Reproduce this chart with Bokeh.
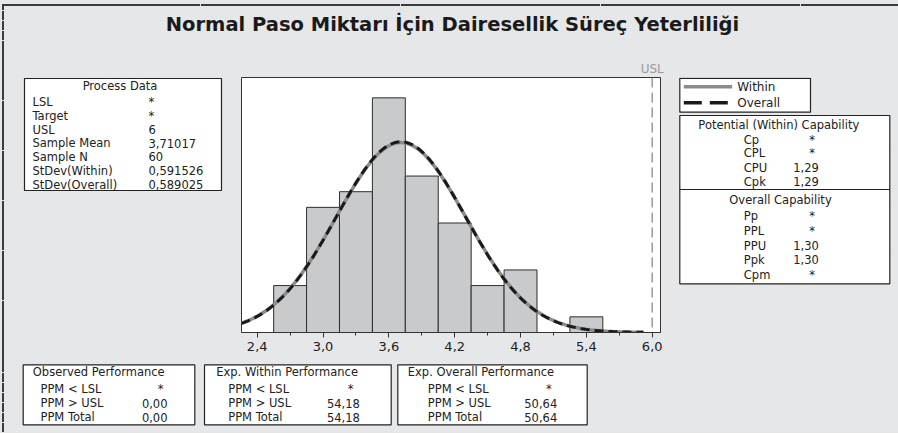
import numpy as np
from bokeh.plotting import figure
from bokeh.models import Range1d, LinearAxis, FixedTicker, CustomJSTickFormatter, Span
from bokeh.layouts import column, row
from bokeh.core.properties import value
from bokeh.embed import file_html
from bokeh.resources import INLINE

# ---------------- data ----------------
title_text = "Normal Paso Miktarı İçin Dairesellik Süreç Yeterliliği"
bin_edges = [2.55, 2.85, 3.15, 3.45, 3.75, 4.05, 4.35, 4.65, 4.95, 5.25, 5.55]
bin_counts = [3, 8, 9, 15, 10, 7, 3, 4, 0, 1]
tick_values = [2.4, 3.0, 3.6, 4.2, 4.8, 5.4, 6.0]
tick_labels = ["2,4", "3,0", "3,6", "4,2", "4,8", "5,4", "6,0"]
minor_tick_values = [2.7, 3.3, 3.9, 4.5, 5.1, 5.7]
usl = 6.0
sample_mean = 3.71017
sample_n = 60
stdev_within = 0.591526
stdev_overall = 0.589025

process_labels = ["LSL", "Target", "USL", "Sample Mean", "Sample N", "StDev(Within)", "StDev(Overall)"]
process_values = ["*", "*", "6", "3,71017", "60", "0,591526", "0,589025"]

within_labels = ["Cp", "CPL", "CPU", "Cpk"]
within_values = ["*", "*", "1,29", "1,29"]
overall_labels = ["Pp", "PPL", "PPU", "Ppk", "Cpm"]
overall_values = ["*", "*", "1,30", "1,30", "*"]

perf_titles = ["Observed Performance", "Exp. Within Performance", "Exp. Overall Performance"]
perf_labels = ["PPM < LSL", "PPM > USL", "PPM Total"]
perf_values = [["*", "0,00", "0,00"], ["*", "54,18", "54,18"], ["*", "50,64", "50,64"]]

# ---------------- style ----------------
BG = "#e6e7e9"
FONT = "DejaVu Sans"
TXT = "#222222"
FS = "11.5px"
BORDER = "#3c3c3c"

ROW_H = 312
BT, BB = 27, 30


def panel(w, h, top=0, bottom=0):
    f = figure(width=w, height=h, x_range=Range1d(0, w), y_range=Range1d(h - bottom, top),
               output_backend="svg", toolbar_location=None,
               min_border_left=0, min_border_right=0, min_border_top=top, min_border_bottom=bottom,
               x_axis_location=None, y_axis_location=None,
               background_fill_color=None, border_fill_color=None, outline_line_color=None)
    return f


def add_text(f, xs, ys, texts, size=FS, align="left", bold=False, color=TXT):
    n = len(texts)
    if not isinstance(xs, (list, tuple)):
        xs = [xs] * n
    if not isinstance(ys, (list, tuple)):
        ys = [ys] * n
    f.text(x=xs, y=ys, text=texts, text_font=value(FONT), text_font_size=size,
           text_align=align, text_baseline="middle", text_color=color,
           text_font_style="bold" if bold else "normal")


def add_box(f, l, r, t, b):
    f.quad(left=[l], right=[r], top=[t], bottom=[b], fill_color="white",
           line_color="#222222", line_width=1.2)


def add_values(f, x_right, x_star, ys, vals):
    num_y = [y for y, v in zip(ys, vals) if v != "*"]
    num_v = [v for v in vals if v != "*"]
    st_y = [y for y, v in zip(ys, vals) if v == "*"]
    if num_v:
        add_text(f, x_right, num_y, num_v, align="right")
    if st_y:
        add_text(f, x_star, st_y, ["*"] * len(st_y), align="center")


# ---------------- title band ----------------
T = panel(898, 50)
add_text(T, [452], [24], [title_text], size="19.5px", align="center", bold=True, color="#1a1a1a")

# ---------------- left: process data ----------------
L = panel(231, ROW_H, BT, BB)
add_box(L, 24, 221, 28, 140)
add_text(L, [119.5], [35.7], ["Process Data"], align="center")
row_y = [51.7, 65, 79.3, 92.7, 106, 120, 134]
add_text(L, 32, row_y, process_labels)
add_text(L, 148, row_y, process_values)

# ---------------- center: histogram ----------------
C = figure(width=439, height=ROW_H, x_range=Range1d(2.2569, 6.0756), y_range=Range1d(0, 16.3),
           output_backend="svg", toolbar_location=None,
           min_border_left=10, min_border_right=10, min_border_top=BT, min_border_bottom=BB,
           y_axis_location=None, background_fill_color="white", border_fill_color=None,
           outline_line_color="#333333", outline_line_width=1)
C.grid.visible = False

C.quad(left=bin_edges[:-1], right=bin_edges[1:], top=bin_counts, bottom=0,
       fill_color="#c9cacc", line_color="#2e2e2e", line_width=1)

bin_width = bin_edges[1] - bin_edges[0]
xs = np.linspace(2.2569, 5.92, 300)


def normal_curve(sd):
    return sample_n * bin_width * np.exp(-0.5 * ((xs - sample_mean) / sd) ** 2) / (sd * np.sqrt(2 * np.pi))


C.line(xs, normal_curve(stdev_within), line_color="#8c8c8c", line_width=3.5)
C.line(xs, normal_curve(stdev_overall), line_color="#1a1a1a", line_width=3, line_dash="9 5")

C.add_layout(Span(location=usl, dimension="height", line_color="#9a9a9a",
                  line_width=1.5, line_dash="10 5"))

ax = C.xaxis[0]
ax.ticker = FixedTicker(ticks=tick_values, minor_ticks=minor_tick_values)
ax.formatter = CustomJSTickFormatter(args=dict(vals=tick_values, labs=tick_labels), code="""
const i = vals.findIndex(v => Math.abs(v - tick) < 1e-9);
return i >= 0 ? labs[i] : '';
""")
ax.axis_line_color = "#333333"
ax.major_tick_line_color = "#333333"
ax.minor_tick_line_color = "#333333"
ax.major_tick_in = 0
ax.major_tick_out = 5
ax.minor_tick_in = 0
ax.minor_tick_out = 3
ax.major_label_standoff = 4
ax.major_label_text_font = FONT
ax.major_label_text_font_size = "13px"
ax.major_label_text_color = TXT

usl_axis = LinearAxis(ticker=FixedTicker(ticks=[usl]),
                      formatter=CustomJSTickFormatter(code="return 'USL';"),
                      axis_line_color=None, major_tick_line_color=None, minor_tick_line_color=None,
                      major_tick_in=0, major_tick_out=0, major_label_standoff=2,
                      major_label_text_font=FONT, major_label_text_font_size="12px",
                      major_label_text_color="#9a9a9a")
C.add_layout(usl_axis, "above")

# ---------------- right: legend & capability ----------------
R = panel(228, ROW_H, BT, BB)
add_box(R, 9.3, 140, 27.8, 61.7)
R.line([13.3, 61.7], [36.3, 36.3], line_color="#8c8c8c", line_width=3.5)
R.line([13.3, 61.7], [52.3, 52.3], line_color="#1a1a1a", line_width=3.5, line_dash="18 8")
add_text(R, 66.7, [36.3, 52.3], ["Within", "Overall"], size="12px")

add_box(R, 9.3, 219.3, 65, 233.3)
R.line([9.3, 219.3], [139, 139], line_color="#222222", line_width=1.2)
add_text(R, [108.3], [74.3], ["Potential (Within) Capability"], align="center")
wy = [89, 102.7, 117.3, 131]
add_text(R, 73.3, wy, within_labels)
add_values(R, 148.3, 141.7, wy, within_values)
add_text(R, [110], [149.3], ["Overall Capability"], align="center")
oy = [165, 180, 195, 209.3, 224]
add_text(R, 73.3, oy, overall_labels)
add_values(R, 148.3, 141.7, oy, overall_values)

# ---------------- bottom: performance ----------------
B = panel(898, 71)
box_lr = [(22.7, 194.3), (204, 390.7), (397.3, 586.7)]
title_x = [32.3, 215.7, 407.3]
label_x = [40, 227.7, 427.3]
val_right = [167, 359.3, 556.7]
star_x = [160, 350, 548.3]
py = [26.3, 40.7, 54.7]
for i in range(3):
    add_box(B, box_lr[i][0], box_lr[i][1], 2.3, 62.3)
    add_text(B, [title_x[i]], [9.7], [perf_titles[i]])
    add_text(B, label_x[i], py, perf_labels)
    add_values(B, val_right[i], star_x[i], py, perf_values[i])

page_bg = ("linear-gradient(%s, %s) 2px 4px / 2px calc(100%% - 4px) no-repeat, "
           "linear-gradient(%s, %s) 2px 4px / calc(100%% - 2px) 2px no-repeat, %s") % (
    BORDER, BORDER, BORDER, BORDER, BG)

p = column(T, row(L, C, R, spacing=0, styles={"background": "transparent"}), B, spacing=0,
           styles={"background": page_bg})

open("out.html", "w").write(file_html(p, INLINE))
